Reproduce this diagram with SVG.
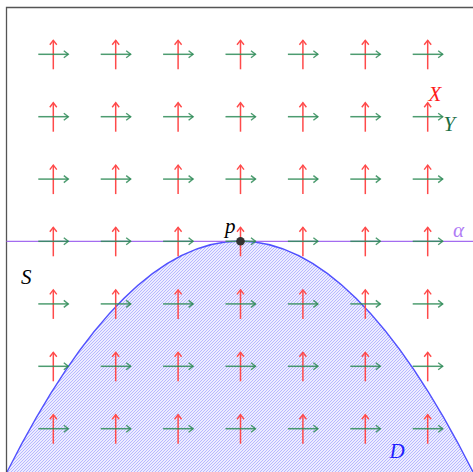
<svg xmlns="http://www.w3.org/2000/svg" width="473" height="472" viewBox="0 0 473 472">
<defs>
<style>
.r{stroke:#ff4a4a;stroke-width:1.5;fill:none}
.g{stroke:#2e8b57;stroke-width:1.5;fill:none;stroke-opacity:0.85}
.lbl{font-family:"Liberation Serif","DejaVu Serif",serif;font-style:italic;font-size:21px}
</style>
<marker id="mr" viewBox="-6 -5 10 10" markerWidth="10" markerHeight="10" refX="0" refY="0" orient="auto" markerUnits="userSpaceOnUse">
<path d="M-4.5,-3.5 L0,0 L-4.5,3.5" fill="none" stroke="#ff4a4a" stroke-width="1.4"/>
</marker>
<marker id="mg" viewBox="-6 -5 10 10" markerWidth="10" markerHeight="10" refX="0" refY="0" orient="auto" markerUnits="userSpaceOnUse">
<path d="M-4.5,-3.5 L0,0 L-4.5,3.5" fill="none" stroke="#2e8b57" stroke-opacity="0.85" stroke-width="1.4"/>
</marker>
<g id="f">
<line class="r" x1="0" y1="15" x2="0" y2="-14" marker-end="url(#mr)"/>
<line class="g" x1="-15" y1="0" x2="15" y2="0" marker-end="url(#mg)"/>
</g>
<pattern id="hatch" patternUnits="userSpaceOnUse" width="3" height="3">
<rect width="3" height="3" fill="#ececff"/>
<path d="M-1,1 L1,-1 M0,3 L3,0 M2,4 L4,2" stroke="#aaaaff" stroke-width="0.8"/>
</pattern>
</defs>
<rect width="473" height="472" fill="#ffffff"/>
<g id="region-D">
<path d="M7,472 Q240,10 473,472 Z" fill="url(#hatch)"/>
<path d="M7,472 Q240,10 473,472" fill="none" stroke="#5050ff" stroke-width="1.3"/>
</g>
<g id="frame">
<path d="M6.5,472 L6.5,7.5 L473,7.5" fill="none" stroke="#555555" stroke-width="1.3"/>
</g>
<g id="alpha-line">
<line x1="6.5" y1="241.3" x2="473" y2="241.3" stroke="#a36cf0" stroke-width="1.2"/>
</g>
<g id="field">
<use href="#f" x="53.3" y="54.3"/><use href="#f" x="115.7" y="54.3"/><use href="#f" x="178.1" y="54.3"/><use href="#f" x="240.5" y="54.3"/><use href="#f" x="302.9" y="54.3"/><use href="#f" x="365.3" y="54.3"/><use href="#f" x="427.7" y="54.3"/>
<use href="#f" x="53.3" y="116.7"/><use href="#f" x="115.7" y="116.7"/><use href="#f" x="178.1" y="116.7"/><use href="#f" x="240.5" y="116.7"/><use href="#f" x="302.9" y="116.7"/><use href="#f" x="365.3" y="116.7"/><use href="#f" x="427.7" y="116.7"/>
<use href="#f" x="53.3" y="179.1"/><use href="#f" x="115.7" y="179.1"/><use href="#f" x="178.1" y="179.1"/><use href="#f" x="240.5" y="179.1"/><use href="#f" x="302.9" y="179.1"/><use href="#f" x="365.3" y="179.1"/><use href="#f" x="427.7" y="179.1"/>
<use href="#f" x="53.3" y="241.3"/><use href="#f" x="115.7" y="241.3"/><use href="#f" x="178.1" y="241.3"/><use href="#f" x="240.5" y="241.3"/><use href="#f" x="302.9" y="241.3"/><use href="#f" x="365.3" y="241.3"/><use href="#f" x="427.7" y="241.3"/>
<use href="#f" x="53.3" y="303.9"/><use href="#f" x="115.7" y="303.9"/><use href="#f" x="178.1" y="303.9"/><use href="#f" x="240.5" y="303.9"/><use href="#f" x="302.9" y="303.9"/><use href="#f" x="365.3" y="303.9"/><use href="#f" x="427.7" y="303.9"/>
<use href="#f" x="53.3" y="366.3"/><use href="#f" x="115.7" y="366.3"/><use href="#f" x="178.1" y="366.3"/><use href="#f" x="240.5" y="366.3"/><use href="#f" x="302.9" y="366.3"/><use href="#f" x="365.3" y="366.3"/><use href="#f" x="427.7" y="366.3"/>
<use href="#f" x="53.3" y="428.7"/><use href="#f" x="115.7" y="428.7"/><use href="#f" x="178.1" y="428.7"/><use href="#f" x="240.5" y="428.7"/><use href="#f" x="302.9" y="428.7"/><use href="#f" x="365.3" y="428.7"/><use href="#f" x="427.7" y="428.7"/>
</g>
<g id="point-p">
<circle cx="240.5" cy="241.3" r="4.3" fill="#333333"/>
<text class="lbl" x="225" y="232.5" fill="#000000">p</text>
</g>
<g id="labels">
<text class="lbl" x="428.5" y="101" fill="#ff1a1a">X</text>
<text class="lbl" x="443.5" y="131" fill="#1a6e44">Y</text>
<text class="lbl" x="453" y="237" fill="#b07cf5">α</text>
<text class="lbl" x="21" y="284" fill="#000000">S</text>
<text class="lbl" x="389.5" y="457.5" fill="#1f1fff">D</text>
</g>
</svg>
